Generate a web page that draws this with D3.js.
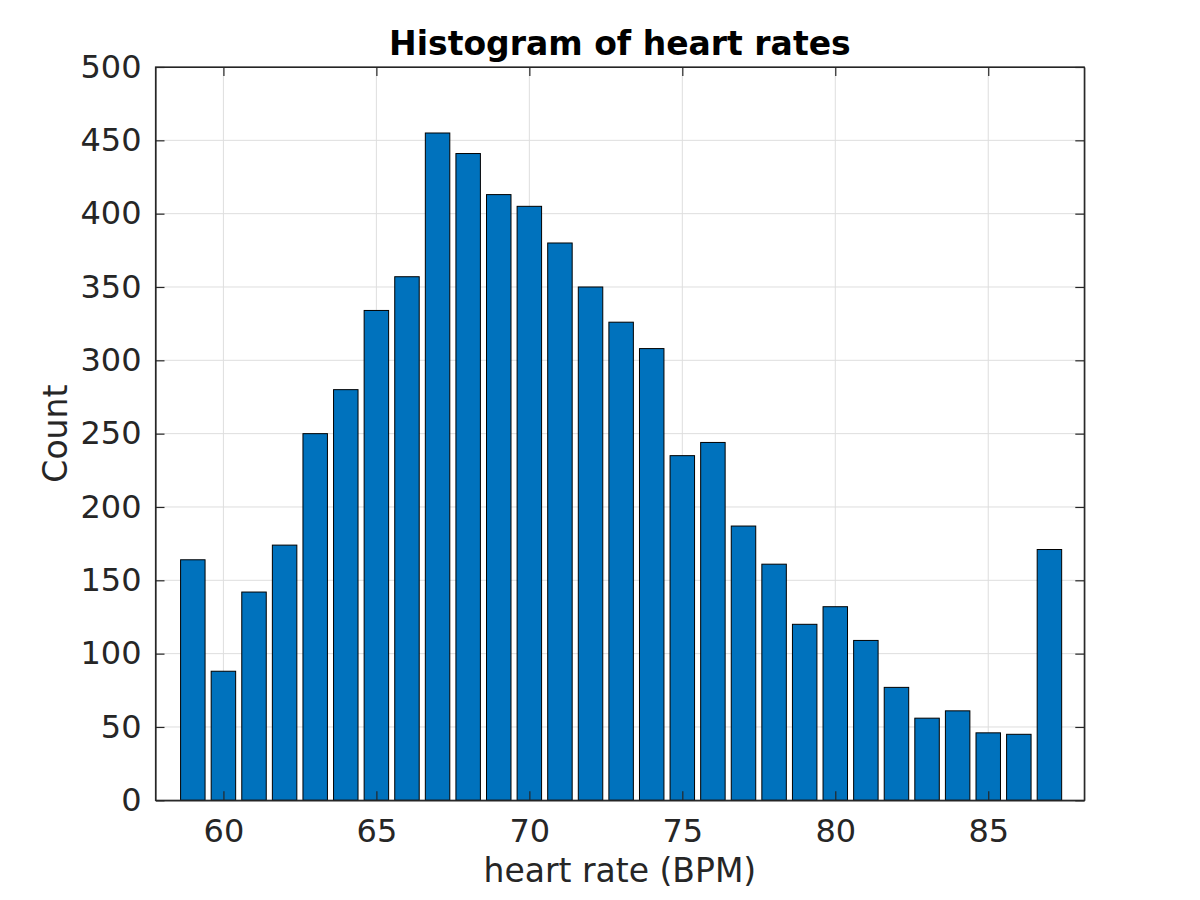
<!DOCTYPE html>
<html>
<head>
<meta charset="utf-8">
<script src="https://cdn.jsdelivr.net/npm/d3@7/dist/d3.min.js"></script>
<style>
  html, body { margin: 0; padding: 0; background: #fff; }
  svg { display: block; }
  text { font-family: "DejaVu Sans", sans-serif; }
</style>
</head>
<body>
<script>
const bpm = [59,60,61,62,63,64,65,66,67,68,69,70,71,72,73,74,75,76,77,78,79,80,81,82,83,84,85,86,87];
const counts = [164,88,142,174,250,280,334,357,455,441,413,405,380,350,326,308,235,244,187,161,120,132,109,77,56,61,46,45,171];
const xTicks = [60,65,70,75,80,85];
const yTicks = [0,50,100,150,200,250,300,350,400,450,500];
const titleText = "Histogram of heart rates";
const xLabelText = "heart rate (BPM)";
const yLabelText = "Count";

const W = 1200, H = 900;
const L = 155.5, T = 67, R = 1084.3, B = 800.3;
const svg = d3.select("body").append("svg").attr("width", W).attr("height", H);

const x = d3.scaleLinear().domain([57.78, 88.14]).range([L, R]);
const y = d3.scaleLinear().domain([0, 500]).range([B, T]);
const barW = x(0.8) - x(0);

// grid
const grid = svg.append("g");
grid.selectAll(".gx").data(xTicks).enter().append("line")
  .attr("x1", d => x(d)).attr("x2", d => x(d)).attr("y1", T).attr("y2", B)
  .attr("stroke", "#dedede").attr("stroke-width", 1);
grid.selectAll(".gy").data(yTicks).enter().append("line")
  .attr("y1", d => y(d)).attr("y2", d => y(d)).attr("x1", L).attr("x2", R)
  .attr("stroke", "#dedede").attr("stroke-width", 1);

// bars
svg.append("g").selectAll("rect").data(bpm).enter().append("rect")
  .attr("x", (d) => x(d) - barW / 2)
  .attr("width", barW)
  .attr("y", (d, i) => y(counts[i]))
  .attr("height", (d, i) => y(0) - y(counts[i]))
  .attr("fill", "#0072BD")
  .attr("stroke", "#000").attr("stroke-width", 1);

// axes
const axisColor = "#262626";
const xAxisB = svg.append("g").attr("transform", `translate(0,${B})`)
  .call(d3.axisBottom(x).tickValues(xTicks).tickSizeInner(-9).tickSizeOuter(0).tickPadding(19));
const xAxisT = svg.append("g").attr("transform", `translate(0,${T})`)
  .call(d3.axisTop(x).tickValues(xTicks).tickSizeInner(-9).tickSizeOuter(0).tickFormat(""));
const yAxisL = svg.append("g").attr("transform", `translate(${L},0)`)
  .call(d3.axisLeft(y).tickValues(yTicks).tickSizeInner(-9).tickSizeOuter(0).tickPadding(14));
const yAxisR = svg.append("g").attr("transform", `translate(${R},0)`)
  .call(d3.axisRight(y).tickValues(yTicks).tickSizeInner(-9).tickSizeOuter(0).tickFormat(""));
[xAxisB, xAxisT, yAxisL, yAxisR].forEach(g => {
  g.select(".domain").attr("stroke", axisColor).attr("stroke-width", 1.2);
  g.selectAll(".tick line").attr("stroke", axisColor).attr("stroke-width", 1.2);
  g.selectAll("text").attr("fill", axisColor).style("font-size", "32px").style("font-family", "DejaVu Sans");
});
// box corners
svg.append("rect").attr("x", L).attr("y", T).attr("width", R - L).attr("height", B - T)
  .attr("fill", "none").attr("stroke", axisColor).attr("stroke-width", 1.2);

// title and labels
svg.append("text").attr("x", (L + R) / 2).attr("y", 55).attr("text-anchor", "middle")
  .style("font-size", "33px").style("font-weight", "bold").attr("fill", "#000").text(titleText);
svg.append("text").attr("x", (L + R) / 2).attr("y", 882).attr("text-anchor", "middle")
  .style("font-size", "33px").attr("fill", axisColor).text(xLabelText);
svg.append("text").attr("transform", `translate(67,${(T + B) / 2}) rotate(-90)`).attr("text-anchor", "middle")
  .style("font-size", "33px").attr("fill", axisColor).text(yLabelText);
</script>
</body>
</html>
